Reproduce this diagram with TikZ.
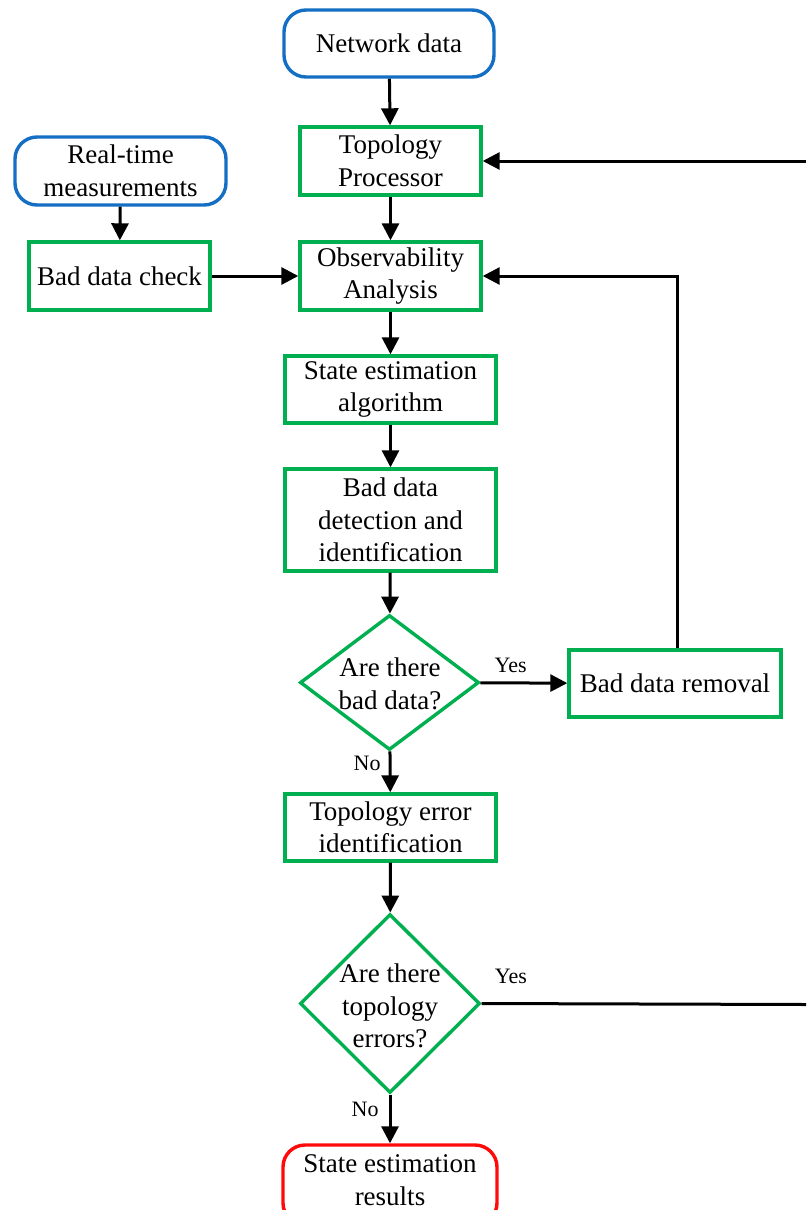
\documentclass[tikz,border=0pt]{standalone}
\usepackage{fontspec}
\setmainfont{Liberation Serif}
\usetikzlibrary{shapes.geometric,arrows.meta}

\definecolor{boxgreen}{RGB}{0,176,80}
\definecolor{termblue}{RGB}{20,110,195}
\definecolor{termred}{RGB}{255,10,10}

\tikzset{
  procbox/.style={draw=boxgreen, line width=3.4pt, fill=white, inner sep=0pt,
    align=center, font=\fontsize{27}{32.5}\selectfont},
  termbox/.style={draw=termblue, line width=3.4pt, rounded corners=22pt, fill=white,
    inner sep=0pt, align=center, font=\fontsize{27}{32.5}\selectfont},
  endbox/.style={draw=termred, line width=3.4pt, rounded corners=22pt, fill=white,
    inner sep=0pt, align=center, font=\fontsize{27}{32.5}\selectfont},
  decision/.style={diamond, draw=boxgreen, line width=3.4pt, fill=white, inner sep=0pt},
  dtext/.style={align=center, inner sep=0pt, font=\fontsize{27}{32.5}\selectfont},
  flow/.style={line width=3pt, -{Triangle[length=17pt, width=17pt]}},
  plainline/.style={line width=3pt},
  branch/.style={inner sep=0pt, font=\fontsize{22}{26}\selectfont}
}

\begin{document}
\begin{tikzpicture}[x=1pt, y=-1pt]
\useasboundingbox (0,0) rectangle (806,1210);

% terminals
\node[termbox, minimum width=210, minimum height=67] (net) at (389,43.5) {Network data};
\node[termbox, minimum width=211, minimum height=68] (rtm) at (120.5,171) {Real-time\\measurements};

% process boxes
\node[procbox, minimum width=181, minimum height=68] (topo) at (390.5,161) {Topology\\Processor};
\node[procbox, minimum width=181, minimum height=68] (obs) at (390.5,276) {Observability\\Analysis};
\node[procbox, minimum width=181, minimum height=68] (bdc) at (119.5,276) {Bad data check};
\node[procbox, minimum width=211, minimum height=67] (sea) at (390.5,389.5) {State estimation\\algorithm};
\node[procbox, minimum width=211, minimum height=102] (bdd) at (390.5,520) {Bad data\\detection and\\identification};
\node[procbox, minimum width=212, minimum height=67] (bdr) at (675,683.5) {Bad data removal};
\node[procbox, minimum width=211, minimum height=67] (tei) at (390.5,827.5) {Topology error\\identification};

% decisions
\node[decision, minimum width=179, minimum height=135] (d1) at (389.5,682.5) {};
\node[dtext] (d1t) at (390,684) {Are there\\bad data?};
\node[decision, minimum width=180, minimum height=179] (d2) at (390,1003.5) {};
\node[dtext] (d2t) at (390,1006) {Are there\\topology\\errors?};

% result terminal (runs past the lower edge)
\node[endbox, minimum width=214, minimum height=80] (res) at (390,1185) {};
\node[dtext] (rest) at (390,1180) {State estimation\\results};

% main flow
\draw[flow] (net) -- (topo);
\draw[flow] (topo) -- (obs);
\draw[flow] (rtm) -- (bdc);
\draw[flow] (bdc) -- (obs);
\draw[flow] (obs) -- (sea);
\draw[flow] (sea) -- (bdd);
\draw[flow] (bdd) -- (d1);
\draw[flow] (d1) -- node[branch, above=9pt, pos=0.35] (yes1) {Yes} (bdr);
\draw[flow] (d1) -- node[branch, left=8pt, pos=0.3] (no1) {No} (tei);
\draw[flow] (tei) -- (d2);
\draw[flow] (d2) -- node[branch, left=10pt, pos=0.3] (no2) {No} (res.north);

% feedback from bad data removal to observability analysis
\coordinate (bdrup) at (677,276);
\draw[flow] ([xshift=2pt]bdr.north) -- (bdrup) -- (obs.east);

% feedback from topology error check, leaving at the right edge
\coordinate (edgetop) at (806,161);
\coordinate (edgebot) at (806,1004.5);
\draw[flow] (edgetop) -- (topo.east);
\draw[plainline] (d2.east) -- node[branch, above=18pt, pos=0.09] (yes2) {Yes} (edgebot);
\end{tikzpicture}
\end{document}
